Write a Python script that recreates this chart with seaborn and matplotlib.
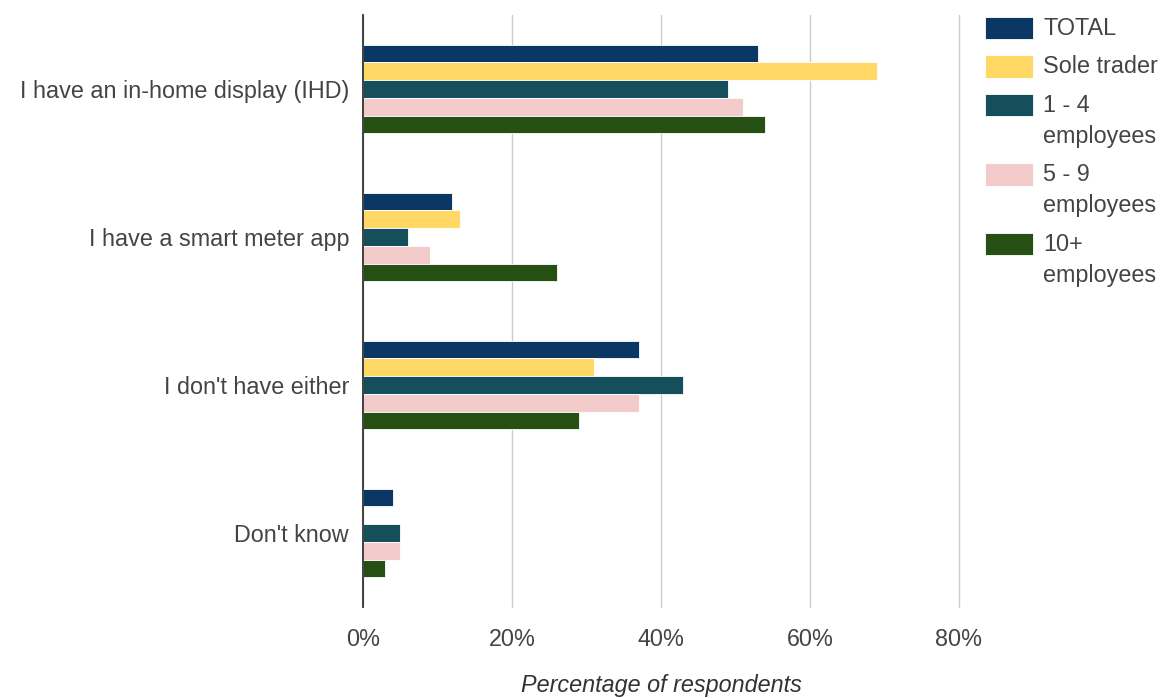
import matplotlib
matplotlib.use("Agg")
import matplotlib.pyplot as plt
import seaborn as sns
import pandas as pd
from matplotlib.ticker import FuncFormatter

categories = [
    "I have an in-home display (IHD)",
    "I have a smart meter app",
    "I don't have either",
    "Don't know",
]
groups = ["TOTAL", "Sole trader", "1 - 4\nemployees", "5 - 9\nemployees", "10+\nemployees"]
total = [53, 12, 37, 4]
sole_trader = [69, 13, 31, 0]
emp_1_4 = [49, 6, 43, 5]
emp_5_9 = [51, 9, 37, 5]
emp_10_plus = [54, 26, 29, 3]
colors = ["#0b3764", "#ffd866", "#164f5c", "#f3cbcb", "#264f13"]

series = [total, sole_trader, emp_1_4, emp_5_9, emp_10_plus]
rows = []
for g, vals in zip(groups, series):
    for c, v in zip(categories, vals):
        rows.append({"category": c, "group": g, "value": v})
df = pd.DataFrame(rows)

sns.set_theme(style="white")
plt.rcParams["font.family"] = ["Liberation Sans", "DejaVu Sans"]

FS = 16.8

fig = plt.figure(figsize=(11.68, 6.98), dpi=100)
ax = fig.add_axes([363 / 1168, 1 - 607 / 698, (959 - 363) / 1168, (607 - 15) / 698])

sns.barplot(
    data=df, y="category", x="value", hue="group",
    order=categories, hue_order=groups, palette=colors,
    orient="h", width=0.6, ax=ax, legend=True, saturation=1,
    edgecolor="white", linewidth=0.6,
)

ax.set_xlim(0, 80)
ax.set_ylim(3.5, -0.5)
ax.set_xticks([0, 20, 40, 60, 80])
ax.xaxis.set_major_formatter(FuncFormatter(lambda v, p: f"{int(v)}%"))
ax.grid(axis="x", color="#cccccc", linewidth=1)
ax.grid(axis="y", visible=False)
for gl in ax.get_xgridlines():
    gl.set_clip_on(False)
ax.set_axisbelow(True)
for s in ["top", "right", "bottom"]:
    ax.spines[s].set_visible(False)
ax.spines["left"].set_color("#333333")
ax.spines["left"].set_linewidth(1.3)
ax.tick_params(axis="both", length=0, labelsize=FS, labelcolor="#444444")
ax.tick_params(axis="x", pad=15)
ax.tick_params(axis="y", pad=10)
ax.set_ylabel("")
ax.set_xlabel("Percentage of respondents", fontsize=FS, style="italic",
              color="#333333", labelpad=17)

handles, labels = ax.get_legend_handles_labels()
ax.legend_.remove()
leg = fig.legend(
    handles, labels, loc="upper left", bbox_to_anchor=(985 / 1168, 1 - 17 / 698),
    frameon=False, fontsize=FS, handlelength=2.07, handleheight=1.1,
    handletextpad=0.42, labelspacing=0.66, borderpad=0, borderaxespad=0,
    labelcolor="#444444",
)
for t in leg.get_texts():
    t.set_linespacing(1.45)
# keep each colour swatch level with the first line of its label
for col in leg._legend_handle_box.get_children():
    for item in col.get_children():
        item.align = "top"

fig.savefig("out.png", dpi=100)
